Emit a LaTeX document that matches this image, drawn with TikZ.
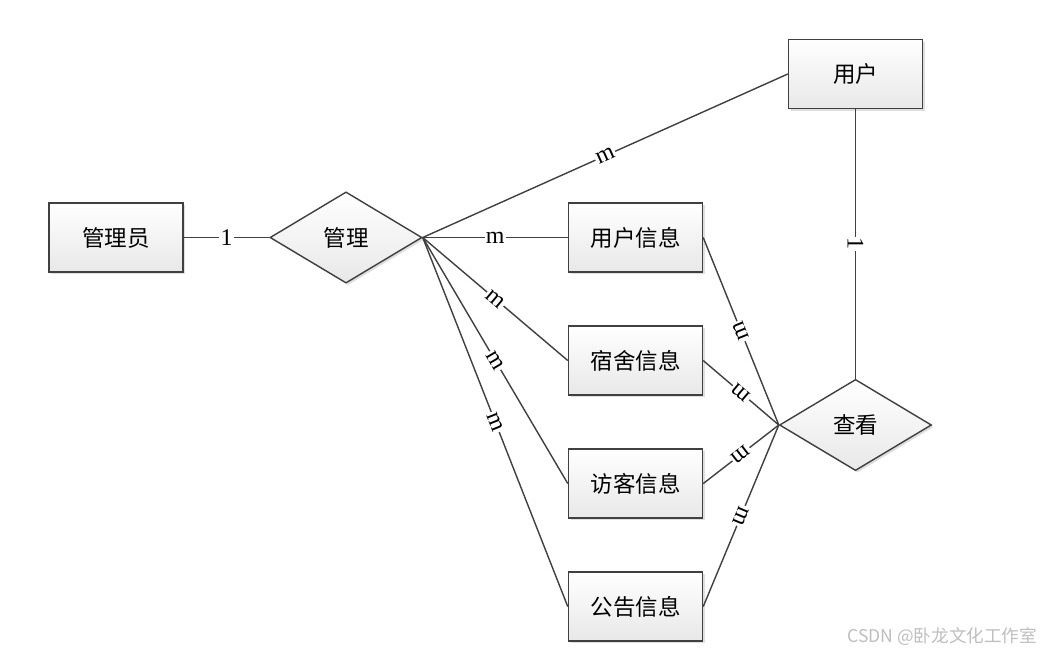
\documentclass[tikz,border=0pt]{standalone}
\usepackage{fontspec}
\setmainfont{Noto Sans CJK SC}
\newfontfamily\latinfont{Liberation Serif}
\usetikzlibrary{shapes.geometric, positioning, shadows}
\definecolor{Edge}{RGB}{64, 64, 64}
\definecolor{BoxBottom}{RGB}{232, 232, 232}
\definecolor{Mark}{RGB}{190, 190, 190}
\tikzstyle{entity} = [rectangle, minimum width=3.35cm, minimum height=1.725cm, draw=Edge, line width=1pt, top color=white, bottom color=BoxBottom, drop shadow={shadow xshift=1.5pt, shadow yshift=-1.5pt, opacity=0.25}, font=\fontsize{16}{18}\selectfont]
\tikzstyle{relation} = [diamond, minimum width=3.8cm, minimum height=2.28cm, inner sep=0pt, draw=Edge, line width=1pt, top color=white, bottom color=BoxBottom, drop shadow={shadow xshift=1.5pt, shadow yshift=-1.5pt, opacity=0.25}, font=\fontsize{16}{18}\selectfont]
\tikzstyle{link} = [draw=Edge, line width=1pt]
\tikzstyle{card} = [fill=white, inner sep=1pt, font=\latinfont\fontsize{17}{17}\selectfont]

\begin{document}
\begin{tikzpicture}[x=0.025cm, y=-0.025cm, node distance=3.075cm]
\useasboundingbox (0,0) rectangle (1046,657);

% Entities and relations
\node (admin) [entity] at (116,237.5) {管理员};
\node (manage) [relation] at (346,237.5) {管理};
\node (user) [entity] at (855.5,74) {用户};
\node (userinfo) [entity] at (635.5,237.5) {用户信息};
\node (dorm) [entity, below of=userinfo] {宿舍信息};
\node (visitor) [entity, below of=dorm] {访客信息};
\node (notice) [entity, below of=visitor] {公告信息};
\node (view) [relation] at (855.5,425) {查看};

% Connections of 管理
\draw [link] (admin) -- node[card] {1} (manage);
\draw [link] (manage.east) -- node[card, sloped] {m} (user.west);
\draw [link] (manage.east) -- node[card] {m} (userinfo.west);
\draw [link] (manage.east) -- node[card, sloped] {m} (dorm.west);
\draw [link] (manage.east) -- node[card, sloped] {m} (visitor.west);
\draw [link] (manage.east) -- node[card, sloped] {m} (notice.west);

% Connections of 查看
\draw [link] (user.south) -- node[card, sloped, allow upside down] {1} (view.north);
\draw [link] (view.west) -- node[card, sloped, allow upside down] {m} (userinfo.east);
\draw [link] (view.west) -- node[card, sloped, allow upside down] {m} (dorm.east);
\draw [link] (view.west) -- node[card, sloped, allow upside down] {m} (visitor.east);
\draw [link] (view.west) -- node[card, sloped, allow upside down] {m} (notice.east);

% Watermark
\node (mark) [anchor=east, text=Mark, font=\fontsize{12.5}{14}\selectfont] at (1042,637) {CSDN @卧龙文化工作室};

\end{tikzpicture}
\end{document}
